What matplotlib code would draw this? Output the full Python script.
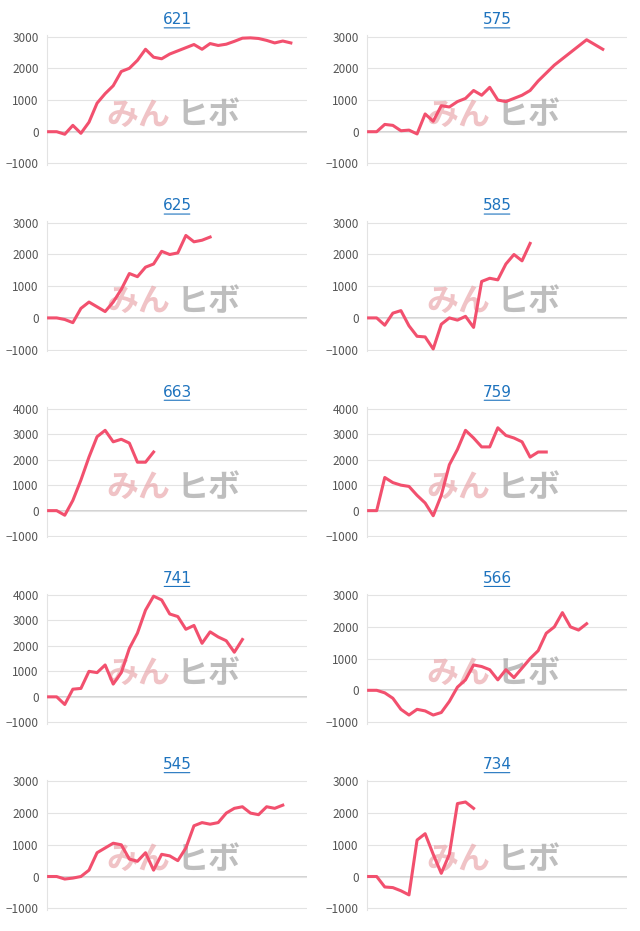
import matplotlib.pyplot as plt
from matplotlib.font_manager import FontProperties

plt.rcParams['font.family'] = ['Noto Sans CJK JP', 'DejaVu Sans']

titles = ['621', '575', '625', '585', '663', '759', '741', '566', '545', '734']
s621 = [0, 0, -80, 200, -50, 300, 900, 1200, 1450, 1900, 2000, 2250, 2600, 2350, 2300, 2450,
        2550, 2650, 2750, 2600, 2780, 2720, 2760, 2850, 2950, 2960, 2940, 2880, 2800, 2860, 2800]
s575 = [0, 0, 230, 200, 30, 50, -70, 560, 330, 820, 780, 950, 1050, 1300, 1150, 1400, 1000,
        950, 1050, 1150, 1300, 1600, 1850, 2100, 2300, 2500, 2700, 2900, 2750, 2600]
s625 = [0, 0, -50, -150, 300, 500, 350, 200, 500, 900, 1400, 1300, 1600, 1700, 2100, 2000,
        2050, 2600, 2400, 2450, 2550]
s585 = [0, 0, -230, 150, 230, -250, -580, -600, -980, -200, 0, -70, 50, -300, 1150, 1250,
        1200, 1700, 2000, 1800, 2350]
s663 = [0, 0, -180, 400, 1200, 2100, 2900, 3150, 2700, 2800, 2650, 1900, 1900, 2300]
s759 = [0, 0, 1300, 1100, 1000, 950, 600, 300, -200, 600, 1800, 2400, 3150, 2850, 2500,
        2500, 3250, 2950, 2850, 2700, 2100, 2300, 2300]
s741 = [0, 0, -300, 300, 330, 1000, 950, 1250, 500, 950, 1900, 2500, 3400, 3950, 3800, 3250,
        3150, 2650, 2800, 2100, 2550, 2350, 2200, 1750, 2250]
s566 = [0, 0, -80, -250, -600, -780, -600, -650, -780, -700, -350, 100, 330, 800, 750, 650,
        330, 650, 400, 700, 1000, 1250, 1800, 2000, 2450, 2000, 1900, 2100]
s545 = [0, 0, -80, -50, 0, 200, 750, 900, 1050, 1000, 550, 480, 750, 200, 700, 650, 500, 900,
        1600, 1700, 1650, 1700, 2000, 2150, 2200, 2000, 1950, 2200, 2150, 2250]
s734 = [0, 0, -330, -350, -450, -580, 1150, 1350, 700, 100, 700, 2300, 2350, 2150]
series = [s621, s575, s625, s585, s663, s759, s741, s566, s545, s734]
ymax = [3000, 3000, 3000, 3000, 4000, 4000, 4000, 3000, 3000, 3000]

fig = plt.figure(figsize=(6.4, 9.31), dpi=100)
row_h = 931 / 5
for i, (t, s, ym) in enumerate(zip(titles, series, ymax)):
    r, c = divmod(i, 2)
    left = (47 if c == 0 else 367) / 640
    top = (r * row_h + 35) / 931
    ax = fig.add_axes([left, 1 - top - 130 / 931, 260 / 640, 130 / 931])
    ax.plot(range(len(s)), s, color='#f2506e', lw=2.2, solid_joinstyle='round', zorder=3)
    ax.set_xlim(-0.2, 32)
    ax.set_ylim(-1050, ym + 50)
    ax.set_yticks(range(-1000, ym + 1, 1000))
    ax.yaxis.grid(True, color='#e3e3e3', lw=0.8)
    ax.axhline(0, color='#cccccc', lw=1.2, zorder=0)
    ax.set_axisbelow(True)
    for sp in ['top', 'right', 'bottom']:
        ax.spines[sp].set_visible(False)
    ax.spines['left'].set_color('#e3e3e3')
    ax.set_xticks([])
    ax.tick_params(axis='y', length=0, labelsize=8.5, labelcolor='#555555', pad=6)
    ax.text(0.5, 1.06, t, transform=ax.transAxes, ha='center', va='bottom',
            color='#1e73be', fontproperties=FontProperties(family='DejaVu Sans', size=11))
    ax.annotate('', xy=(0.44, 1.055), xytext=(0.56, 1.055), xycoords='axes fraction',
                arrowprops=dict(arrowstyle='-', color='#1e73be', lw=0.8))
    # watermark
    ax.text(0.23, 0.38, 'みん', transform=ax.transAxes, fontsize=23, fontweight='bold',
            style='italic', color='#e8a3a8', alpha=0.65, va='center', zorder=1)
    ax.text(0.50, 0.38, 'ヒボ', transform=ax.transAxes, fontsize=23, fontweight='bold',
            style='italic', color='#a8a8a8', alpha=0.75, va='center', zorder=1)

fig.savefig('out.png', dpi=100)
